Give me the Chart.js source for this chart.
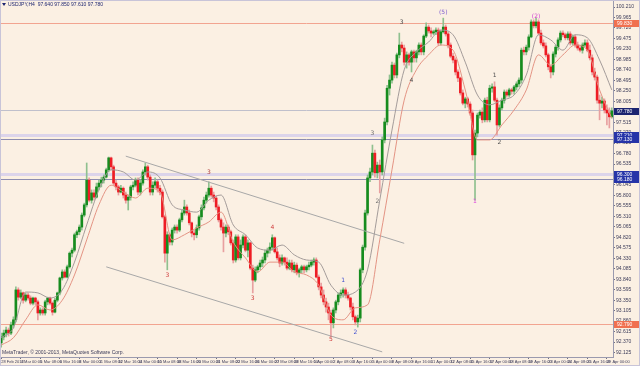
<!DOCTYPE html>
<html>
<head>
<meta charset="utf-8">
<script src="https://cdn.jsdelivr.net/npm/chart.js@4.4.1/dist/chart.umd.min.js"></script>
<style>
  html, body { margin: 0; padding: 0; background: #fbf0e3; }
  #chart { display: block; }
</style>
</head>
<body>
<canvas id="chart" width="640" height="366"></canvas>
<script>
// USDJPY H4, 28 Feb 2013 16:00 .. 29 Apr 2013 08:00 (251 bars)
const opens = [
92.35,92.49,92.58,92.65,92.58,92.77,92.89,93.59,93.42,93.52,
93.35,93.47,93.40,93.28,93.40,93.31,93.05,93.12,93.05,93.31,
93.40,93.28,93.07,93.35,93.52,93.87,94.01,93.89,94.13,94.45,
94.52,94.88,94.95,95.06,95.34,95.58,96.16,95.69,95.86,95.76,
96.00,96.09,96.16,96.23,96.40,96.68,96.47,96.09,96.00,95.88,
95.97,95.81,95.69,95.76,96.00,96.04,96.16,95.88,96.09,96.35,
96.47,96.23,95.88,96.04,96.12,95.97,95.88,95.30,94.45,94.88,
94.71,94.99,95.06,94.99,95.23,95.39,95.53,95.39,95.16,94.92,
94.88,95.04,95.30,95.51,95.69,95.81,95.97,95.81,95.74,95.53,
95.23,95.06,94.92,95.06,94.95,94.69,94.29,94.83,94.34,94.64,
94.83,94.52,94.69,94.10,93.82,94.06,94.13,94.22,94.29,94.45,
94.52,94.59,94.81,94.48,94.34,94.22,94.34,94.24,94.10,94.22,
94.06,94.17,93.99,94.06,94.13,94.06,94.13,94.17,94.24,94.29,
93.89,93.66,93.47,93.31,93.19,93.05,92.82,93.12,93.31,93.47,
93.52,93.59,93.47,93.40,93.19,92.96,92.84,92.93,94.06,94.59,
95.39,96.21,96.35,96.79,96.33,96.51,96.35,97.10,97.52,98.31,
98.50,98.85,98.62,99.09,99.32,99.25,98.92,99.09,98.92,99.16,
99.02,99.16,99.32,99.16,99.53,99.74,99.65,99.60,99.63,99.67,
99.37,99.63,99.74,99.58,99.32,99.06,98.97,98.69,98.55,98.20,
97.96,98.06,97.94,97.73,96.75,97.26,97.68,97.75,97.57,98.03,
97.57,98.31,98.34,98.03,97.45,97.85,98.03,98.22,98.15,98.27,
98.24,98.34,98.41,98.50,99.20,99.16,99.27,99.51,99.86,99.77,
99.86,99.60,99.37,99.30,99.09,98.81,98.69,99.11,99.27,99.44,
99.60,99.56,99.49,99.58,99.37,99.51,99.32,99.25,99.20,99.32,
99.37,99.20,99.02,98.69,98.57,98.03,97.96,98.01,97.80,97.73,
97.64
];
const highs = [
92.58,92.65,92.72,92.70,92.84,92.96,93.66,93.64,93.59,93.54,
93.52,93.52,93.45,93.42,93.42,93.35,93.17,93.17,93.35,93.42,
93.42,93.31,93.40,93.54,93.89,94.06,94.06,94.17,94.48,94.57,
94.92,94.99,95.11,95.39,95.62,96.56,96.21,95.93,95.93,96.09,
96.16,96.23,96.28,96.44,96.70,96.70,96.51,96.16,96.04,96.04,
96.00,95.88,95.81,96.04,96.12,96.21,96.21,96.16,96.40,96.56,
96.51,96.28,96.12,96.21,96.16,96.04,95.93,95.34,94.95,94.92,
95.04,95.11,95.11,95.27,95.46,95.69,95.58,95.46,95.18,94.99,
95.11,95.34,95.58,95.76,95.88,96.12,96.02,95.88,95.79,95.58,
95.27,95.16,95.11,95.11,94.99,94.76,94.88,94.88,94.76,94.88,
94.88,94.76,94.71,94.17,94.13,94.17,94.29,94.36,94.52,94.57,
94.69,94.88,94.83,94.57,94.41,94.41,94.36,94.34,94.29,94.29,
94.24,94.22,94.10,94.17,94.17,94.17,94.24,94.29,94.34,94.34,
93.94,93.75,93.59,93.40,93.28,93.12,93.17,93.35,93.52,93.59,
93.64,93.64,93.54,93.42,93.28,93.00,93.00,94.10,94.64,95.46,
96.28,96.44,96.98,96.86,96.58,96.63,97.17,97.61,98.38,98.62,
98.92,98.90,99.13,99.60,99.39,99.32,99.16,99.13,99.20,99.20,
99.20,99.37,99.37,99.56,99.84,99.79,99.72,99.67,99.72,99.72,
99.67,99.95,99.79,99.63,99.37,99.13,99.02,98.74,98.57,98.27,
98.10,98.10,97.99,97.80,97.33,97.73,97.80,97.85,98.08,98.10,
98.38,98.41,98.46,98.08,97.92,98.08,98.27,98.27,98.31,98.31,
98.38,98.46,98.55,99.25,99.27,99.32,99.56,99.91,99.91,99.95,
99.91,99.67,99.44,99.37,99.13,98.85,99.16,99.32,99.49,99.65,
99.65,99.60,99.63,99.63,99.56,99.56,99.39,99.32,99.37,99.44,
99.44,99.32,99.09,98.78,98.62,98.15,98.10,98.06,97.92,97.85,
97.85
];
const lows = [
92.25,92.42,92.49,92.51,92.54,92.70,92.84,93.35,93.38,93.28,
93.31,93.35,93.24,93.24,93.24,92.89,93.00,93.00,93.00,93.24,
93.24,93.00,93.05,93.31,93.47,93.82,93.87,93.87,94.10,94.36,
94.48,94.81,94.88,94.99,95.30,95.53,95.65,95.62,95.69,95.74,
95.93,96.00,96.09,96.21,96.35,96.40,96.04,95.93,95.81,95.86,
95.74,95.62,95.46,95.69,95.93,96.00,95.81,95.81,96.04,96.28,
96.16,95.81,95.81,95.97,95.88,95.81,95.27,94.24,94.06,94.64,
94.64,94.92,94.92,94.95,95.18,95.34,95.34,95.11,94.83,94.76,
94.81,94.99,95.23,95.46,95.62,95.76,95.76,95.65,95.46,95.18,
94.99,94.48,94.83,94.88,94.64,94.22,94.24,94.29,94.29,94.57,
94.48,94.36,94.06,93.52,93.78,93.99,94.06,94.13,94.22,94.36,
94.45,94.52,94.45,94.29,94.13,94.17,94.17,94.06,94.06,94.01,
93.99,93.94,93.89,93.99,93.99,94.01,94.06,94.13,94.17,93.87,
93.59,93.40,93.24,93.07,92.89,92.49,92.70,93.05,93.24,93.40,
93.42,93.40,93.35,93.12,92.89,92.77,92.72,92.84,93.99,94.52,
95.34,96.12,96.28,96.23,96.21,95.86,96.28,97.03,97.45,98.15,
98.43,98.55,98.55,99.02,99.16,98.85,98.78,98.85,98.69,98.92,
98.92,99.09,99.09,99.09,99.49,99.60,99.51,99.56,99.56,99.32,
99.32,99.60,99.53,99.25,99.02,98.90,98.62,98.46,98.15,97.92,
97.85,97.87,97.68,96.63,95.69,97.17,97.61,97.50,97.52,97.52,
97.52,98.22,97.99,97.21,97.40,97.80,97.96,98.10,98.10,98.17,
98.17,98.27,98.34,98.43,99.09,99.09,99.20,99.49,99.72,99.72,
99.56,99.32,99.25,99.04,98.74,98.55,98.62,99.04,99.20,99.39,
99.51,99.44,99.44,99.32,99.32,99.27,99.20,99.16,99.13,99.27,
99.16,98.97,98.62,98.50,97.96,97.57,97.85,97.73,97.45,97.38,
97.61
];
const closes = [
92.49,92.58,92.65,92.58,92.77,92.89,93.59,93.42,93.52,93.35,
93.47,93.40,93.28,93.40,93.31,93.05,93.12,93.05,93.31,93.40,
93.28,93.07,93.35,93.52,93.87,94.01,93.89,94.13,94.45,94.52,
94.88,94.95,95.06,95.34,95.58,96.16,95.69,95.86,95.76,96.00,
96.09,96.16,96.23,96.40,96.68,96.47,96.09,96.00,95.88,95.97,
95.81,95.69,95.76,96.00,96.04,96.16,95.88,96.09,96.35,96.47,
96.23,95.88,96.04,96.12,95.97,95.88,95.30,94.45,94.88,94.71,
94.99,95.06,94.99,95.23,95.39,95.53,95.39,95.16,94.92,94.88,
95.04,95.30,95.51,95.69,95.81,95.97,95.81,95.74,95.53,95.23,
95.06,94.92,95.06,94.95,94.69,94.29,94.83,94.34,94.64,94.83,
94.52,94.69,94.10,93.82,94.06,94.13,94.22,94.29,94.45,94.52,
94.59,94.81,94.48,94.34,94.22,94.34,94.24,94.10,94.22,94.06,
94.17,93.99,94.06,94.13,94.06,94.13,94.17,94.24,94.29,93.89,
93.66,93.47,93.31,93.19,93.05,92.82,93.12,93.31,93.47,93.52,
93.59,93.47,93.40,93.19,92.96,92.84,92.93,94.06,94.59,95.39,
96.21,96.35,96.79,96.33,96.51,96.35,97.10,97.52,98.31,98.50,
98.85,98.62,99.09,99.32,99.25,98.92,99.09,98.92,99.16,99.02,
99.16,99.32,99.16,99.53,99.74,99.65,99.60,99.63,99.67,99.37,
99.63,99.74,99.58,99.32,99.06,98.97,98.69,98.55,98.20,97.96,
98.06,97.94,97.73,96.75,97.26,97.68,97.75,97.57,98.03,97.57,
98.31,98.34,98.03,97.45,97.85,98.03,98.22,98.15,98.27,98.24,
98.34,98.41,98.50,99.20,99.16,99.27,99.51,99.86,99.77,99.86,
99.60,99.37,99.30,99.09,98.81,98.69,99.11,99.27,99.44,99.60,
99.56,99.49,99.58,99.37,99.51,99.32,99.25,99.20,99.32,99.37,
99.20,99.02,98.69,98.57,98.03,97.96,98.01,97.80,97.73,97.64,
97.78
];

// envelope lines, read every 5th bar
const upperBand = [
92.47,92.70,93.54,93.52,93.40,93.59,94.24,95.11,95.93,96.40,
96.35,96.16,96.35,96.21,95.58,95.46,95.41,95.69,95.81,95.11,
94.88,94.57,94.52,94.64,94.41,94.29,94.24,93.70,93.47,93.54,
94.06,95.69,97.33,98.74,99.16,99.39,99.67,99.56,98.92,98.15,
97.92,98.03,98.15,98.62,99.56,99.44,99.20,99.56,99.49,98.97,
98.27
];
const lowerBand = [
92.30,92.47,92.89,93.24,93.12,93.35,93.94,94.76,95.58,96.04,
95.88,95.74,95.97,95.88,94.76,94.88,95.04,95.18,95.41,94.71,
94.34,94.01,94.24,94.24,94.01,93.94,93.70,93.00,92.89,93.17,
93.24,94.76,96.40,98.03,98.74,99.09,99.32,99.20,98.27,97.10,
97.10,97.45,97.80,98.27,99.09,98.85,99.09,99.32,99.20,98.27,
97.61
];

// channel lines: [bar, price] end points
const channelTop = [[51, 96.72], [165, 94.68]];
const channelBottom = [[43, 94.13], [156, 92.14]];

// horizontal levels
const levelPrices = [99.83, 92.79, 97.80, 97.21, 97.13, 96.30, 96.18];
const levelStyles = [
  { color: '#f2a490', width: 1, box: '#f07050' },
  { color: '#f2a490', width: 1, box: '#f07050' },
  { color: '#c0c0cc', width: 1, box: null },
  { color: '#dcd4ea', width: 3, box: '#2634a8' },
  { color: '#8c8cb0', width: 1, box: '#2634a8' },
  { color: '#dcd4ea', width: 3, box: '#2634a8' },
  { color: '#8c8cb0', width: 1, box: '#2634a8' }
];

// wave count labels
const waveBars = [68, 85, 103, 111, 135, 140, 145, 152, 154, 164, 168, 181, 194, 202, 204, 219];
const wavePrices = [93.92, 96.33, 93.40, 95.06, 92.42, 93.82, 92.60, 97.26, 95.65, 99.86, 98.50, 100.08, 95.65, 98.60, 97.05, 100.00];
const waveTexts = ['3', '3', '3', '4', '5', '1', '2', '3', '2', '3', '4', '(5)', '1', '1', '2', '(2)'];
const waveColors = ['#d04040', '#b04040', '#d04040', '#d04040', '#d04040', '#4050d0', '#4050d0',
  '#707070', '#707070', '#505050', '#505050', '#8060d0', '#e040e0', '#505050', '#505050', '#d040d0'];

const timeLabels = [
  '28 Feb 2013', '4 Mar 00:00', '5 Mar 08:00', '6 Mar 16:00', '8 Mar 00:00', '11 Mar 08:00',
  '12 Mar 16:00', '14 Mar 00:00', '15 Mar 08:00', '18 Mar 16:00', '20 Mar 00:00', '21 Mar 08:00',
  '22 Mar 16:00', '26 Mar 00:00', '27 Mar 08:00', '28 Mar 16:00', '1 Apr 00:00', '2 Apr 08:00',
  '3 Apr 16:00', '5 Apr 00:00', '8 Apr 08:00', '9 Apr 16:00', '11 Apr 00:00', '12 Apr 08:00',
  '15 Apr 16:00', '17 Apr 00:00', '18 Apr 08:00', '19 Apr 16:00', '23 Apr 00:00', '24 Apr 08:00',
  '25 Apr 16:00', '29 Apr 00:00'
];
const priceTicks = [
  91.880, 92.125, 92.370, 92.615, 92.860, 93.105, 93.350, 93.595, 93.840, 94.085,
  94.330, 94.575, 94.820, 95.065, 95.310, 95.555, 95.800, 96.045, 96.290, 96.535,
  96.780, 97.025, 97.270, 97.515, 97.760, 98.005, 98.250, 98.495, 98.740, 98.985,
  99.230, 99.475, 99.720, 99.965, 100.210
];

const bg = '#fbf0e3';
const fg = '#3c3c5a';
const font = 'DejaVu Sans';
const narrow = '"Liberation Sans Narrow", "Liberation Sans", sans-serif';

const bars = closes.map((c, i) => i);
const isUp = closes.map((c, i) => c >= opens[i]);

let overlay = {
  id: 'overlay',
  beforeDraw(chart) {
    let ctx = chart.ctx;
    ctx.save();
    ctx.fillStyle = bg;
    ctx.fillRect(0, 0, chart.width, chart.height);
    ctx.restore();
  },
  beforeDatasetsDraw(chart) {
    let ctx = chart.ctx, a = chart.chartArea, y = chart.scales.y;
    ctx.save();
    levelPrices.forEach((p, k) => {
      let py = Math.round(y.getPixelForValue(p)) + 0.5;
      ctx.strokeStyle = levelStyles[k].color;
      ctx.lineWidth = levelStyles[k].width;
      ctx.beginPath();
      ctx.moveTo(a.left, py);
      ctx.lineTo(a.right, py);
      ctx.stroke();
    });
    ctx.restore();
  },
  afterDatasetsDraw(chart) {
    let ctx = chart.ctx, x = chart.scales.x, y = chart.scales.y;
    ctx.save();
    ctx.font = '6px ' + font;
    ctx.textAlign = 'center';
    ctx.textBaseline = 'middle';
    waveBars.forEach((b, k) => {
      ctx.fillStyle = waveColors[k];
      ctx.fillText(waveTexts[k], x.getPixelForValue(b), y.getPixelForValue(wavePrices[k]));
    });
    ctx.restore();
  },
  afterDraw(chart) {
    let ctx = chart.ctx, a = chart.chartArea, y = chart.scales.y;
    ctx.save();
    ctx.font = '5px ' + narrow;
    ctx.textBaseline = 'middle';
    // price boxes on the axis
    let boxes = levelPrices.map((p, k) => [p, levelStyles[k].box]).filter(b => b[1]);
    boxes.push([closes[closes.length - 1], '#1c2470']);
    boxes.forEach(([p, col]) => {
      let py = Math.round(y.getPixelForValue(p));
      ctx.fillStyle = col;
      ctx.fillRect(a.right + 1, py - 3, chart.width - a.right - 2, 7);
      ctx.fillStyle = '#ffffff';
      ctx.textAlign = 'left';
      ctx.fillText(p.toFixed(3), a.right + 4, py + 0.5);
    });
    // header and copyright
    ctx.fillStyle = '#1c2470';
    ctx.beginPath();
    ctx.moveTo(2, 3); ctx.lineTo(6, 3); ctx.lineTo(4, 6); ctx.closePath();
    ctx.fill();
    let n = closes.length - 1;
    ctx.fillText('USDJPY,H4  ' + [opens[n], highs[n], lows[n], closes[n]].map(v => v.toFixed(3)).join(' '), 8, 4.5);
    ctx.fillStyle = fg;
    ctx.fillText('MetaTrader, \u00a9 2001-2013, MetaQuotes Software Corp.', 2, a.bottom - 4);
    // window frame
    ctx.strokeStyle = '#c8c4d8';
    ctx.lineWidth = 1;
    ctx.strokeRect(0.5, 0.5, chart.width - 1, chart.height - 1);
    ctx.restore();
  }
};

let config = {
  data: {
    labels: bars,
    datasets: [
      {
        type: 'line',
        data: upperBand.map((v, k) => ({ x: k * 5, y: v })),
        borderColor: '#a49c9a',
        borderWidth: 1,
        pointRadius: 0,
        cubicInterpolationMode: 'monotone',
        order: 0
      },
      {
        type: 'line',
        data: lowerBand.map((v, k) => ({ x: k * 5, y: v })),
        borderColor: '#e49484',
        borderWidth: 1,
        pointRadius: 0,
        cubicInterpolationMode: 'monotone',
        order: 0
      },
      {
        type: 'line',
        data: channelTop.map(d => ({ x: d[0], y: d[1] })),
        borderColor: '#a8a8a8',
        borderWidth: 1,
        pointRadius: 0,
        order: 0
      },
      {
        type: 'line',
        data: channelBottom.map(d => ({ x: d[0], y: d[1] })),
        borderColor: '#a8a8a8',
        borderWidth: 1,
        pointRadius: 0,
        order: 0
      },
      {
        type: 'bar',
        data: opens.map((o, i) => [o, closes[i]]),
        backgroundColor: isUp.map(u => u ? '#168c1e' : '#ee1c24'),
        barThickness: 2,
        grouped: false,
        order: 1
      },
      {
        type: 'bar',
        data: lows.map((l, i) => [l, highs[i]]),
        backgroundColor: isUp.map(u => u ? '#8fc08f' : '#e8a0a0'),
        barThickness: 1,
        grouped: false,
        order: 2
      }
    ]
  },
  options: {
    responsive: false,
    animation: false,
    layout: { padding: 0 },
    plugins: {
      legend: { display: false },
      tooltip: { enabled: false }
    },
    scales: {
      x: {
        type: 'category',
        offset: true,
        grid: {
          display: true,
          drawOnChartArea: false,
          offset: false,
          tickLength: 2,
          color: ctx => (ctx.index % 8 === 0 ? '#707080' : 'rgba(0,0,0,0)')
        },
        border: { color: '#9a9aae' },
        ticks: {
          autoSkip: false,
          maxRotation: 0,
          align: 'start',
          padding: 0,
          font: { family: narrow, size: 4 },
          color: fg,
          callback: (v, i) => (i % 8 === 0 ? timeLabels[i / 8] : '')
        },
        afterFit: s => { s.height = 9; s.paddingLeft = 0; s.paddingRight = 0; }
      },
      y: {
        position: 'right',
        min: 92.020,
        max: 100.374,
        grid: { display: true, drawOnChartArea: false, tickLength: 2, color: '#707080' },
        border: { color: '#9a9aae' },
        ticks: {
          padding: 1,
          font: { family: narrow, size: 5 },
          color: fg,
          callback: v => v.toFixed(3)
        },
        afterBuildTicks: s => {
          s.ticks = priceTicks.filter(v => v >= s.min && v <= s.max).map(v => ({ value: v }));
        },
        afterFit: s => { s.width = 27; s.paddingTop = 0; s.paddingBottom = 0; }
      }
    }
  },
  plugins: [overlay]
};

let chart = new Chart(document.getElementById('chart'), config);
</script>
</body>
</html>
